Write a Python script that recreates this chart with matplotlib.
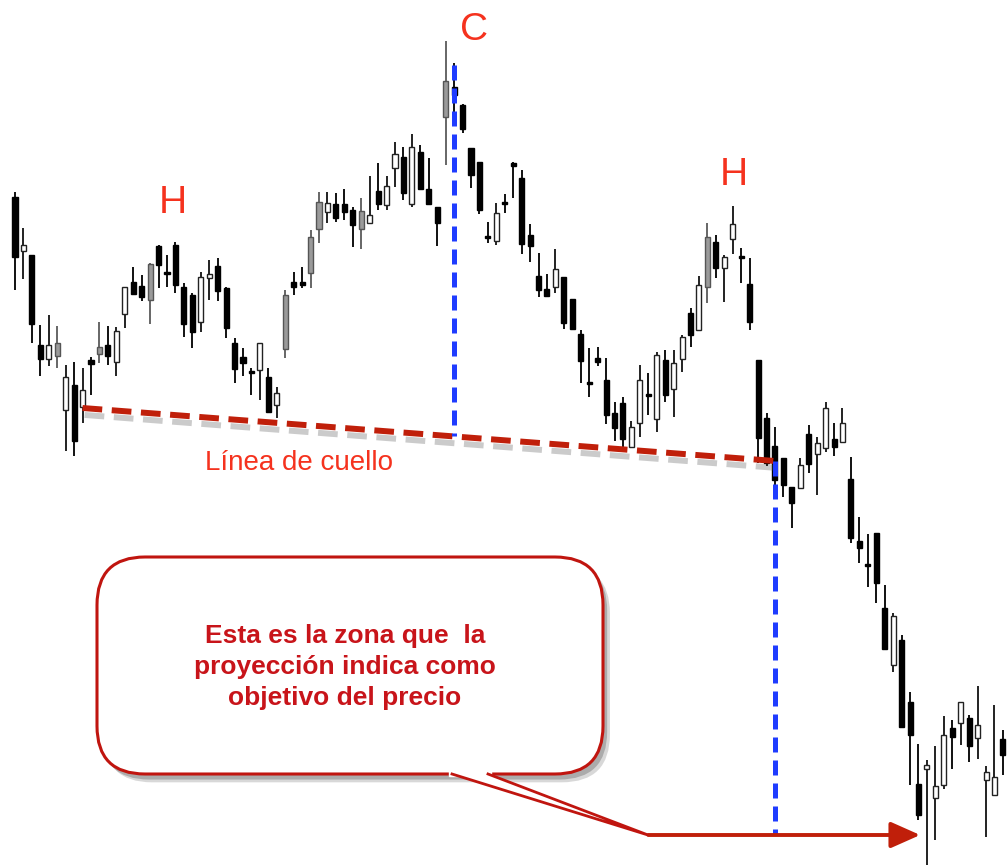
import matplotlib
matplotlib.use("Agg")
import matplotlib.pyplot as plt
import matplotlib.patheffects as pe
from matplotlib.patches import FancyBboxPatch, Polygon
import numpy as np

# velas (precio en unidades arbitrarias)
opens = [70.3, 64.9, 64.5, 55.5, 54.1, 54.4, 49.0, 51.5, 49.3, 54.0,
         54.6, 55.5, 53.8, 58.6, 61.8, 61.4, 60.0, 65.4, 62.8, 65.5,
         61.3, 60.5, 57.8, 62.2, 63.4, 61.2, 55.7, 54.3, 52.9, 53.0,
         52.3, 49.5, 55.1, 61.8, 61.8, 62.7, 67.1, 68.8, 69.6, 69.6,
         69.0, 67.1, 67.7, 70.9, 69.5, 73.2, 74.3, 69.6, 74.8, 71.1,
         69.3, 78.3, 81.3, 79.5, 75.2, 73.8, 66.4, 65.9, 69.8, 73.7,
         72.2, 66.5, 62.4, 61.1, 61.3, 62.3, 60.1, 56.6, 51.8, 54.2,
         52.0, 48.7, 49.7, 45.3, 47.7, 50.6, 48.1, 54.0, 51.1, 54.1,
         58.7, 57.0, 61.3, 65.8, 63.2, 66.1, 64.4, 61.6, 54.0, 48.2,
         45.4, 44.2, 41.3, 41.2, 46.6, 44.6, 45.2, 46.1, 45.8, 42.1,
         35.9, 33.6, 36.7, 29.2, 23.5, 26.0, 19.8, 11.6, 13.1, 10.2,
         11.5, 17.2, 17.7, 18.2, 16.2, 12.0, 10.5, 16.1]
highs = [70.8, 67.2, 64.5, 57.5, 58.5, 57.4, 53.5, 53.8, 53.2, 54.3,
         57.8, 57.4, 57.3, 61.3, 63.3, 62.5, 63.7, 65.5, 64.5, 65.8,
         61.7, 60.7, 62.8, 64.0, 64.2, 61.3, 56.2, 55.2, 53.2, 55.7,
         53.2, 51.3, 61.0, 62.8, 63.3, 67.0, 70.8, 70.8, 70.7, 71.1,
         69.3, 70.2, 72.4, 73.7, 72.4, 75.8, 75.3, 76.6, 75.5, 74.2,
         69.3, 85.9, 83.7, 79.6, 75.2, 73.8, 67.8, 69.7, 70.6, 73.8,
         73.0, 67.6, 64.7, 62.6, 65.1, 62.3, 60.1, 57.0, 55.2, 55.3,
         54.2, 49.8, 50.3, 47.9, 53.5, 52.7, 54.8, 55.0, 55.0, 56.5,
         59.2, 62.4, 67.7, 66.5, 64.5, 69.4, 65.2, 64.2, 54.0, 48.7,
         47.3, 44.2, 41.3, 44.2, 47.5, 46.3, 49.8, 47.7, 49.2, 44.3,
         38.3, 36.6, 36.7, 31.5, 28.7, 26.5, 20.8, 15.6, 14.0, 15.4,
         18.4, 18.0, 19.8, 18.5, 21.4, 13.4, 19.5, 17.0]
lows = [61.0, 62.1, 55.7, 52.4, 53.4, 53.2, 44.9, 44.4, 47.7, 50.5,
        53.7, 53.5, 52.4, 57.2, 60.5, 59.9, 57.6, 61.2, 61.3, 60.7,
        56.3, 55.2, 56.8, 60.0, 59.9, 56.2, 51.7, 52.4, 50.5, 50.0,
        48.8, 48.2, 54.2, 60.5, 61.2, 61.2, 65.7, 67.7, 67.8, 68.0,
        65.3, 65.1, 67.7, 69.0, 69.0, 71.3, 70.0, 69.3, 71.0, 69.5,
        65.4, 73.5, 78.3, 76.7, 71.2, 68.6, 65.7, 65.5, 68.7, 70.2,
        64.6, 63.8, 60.3, 60.3, 60.7, 57.1, 57.0, 51.7, 50.3, 53.4,
        47.6, 45.9, 45.2, 45.2, 46.3, 48.5, 46.8, 49.8, 48.3, 52.8,
        55.3, 57.0, 59.7, 62.2, 59.8, 64.6, 61.7, 57.0, 43.7, 43.4,
        41.0, 40.3, 37.2, 41.2, 42.7, 40.5, 44.8, 44.4, 45.8, 35.7,
        33.7, 31.3, 29.7, 25.0, 22.8, 17.3, 11.5, 8.0, 3.5, 6.0,
        11.1, 13.1, 15.5, 13.8, 14.1, 6.3, 10.5, 12.5]
closes = [64.3, 65.5, 57.6, 54.1, 55.5, 55.7, 52.3, 45.9, 51.0, 53.6,
          55.3, 54.4, 56.9, 61.3, 60.6, 60.3, 63.6, 63.5, 62.6, 61.5,
          57.6, 56.8, 62.3, 62.6, 60.9, 57.2, 53.1, 53.7, 52.7, 55.7,
          48.8, 50.7, 60.5, 61.3, 61.5, 66.3, 69.8, 69.7, 68.2, 68.8,
          67.5, 68.9, 68.5, 69.6, 71.4, 74.6, 70.7, 75.3, 71.1, 69.6,
          67.7, 81.9, 80.5, 77.1, 72.5, 69.0, 66.2, 68.7, 69.6, 73.4,
          65.6, 65.4, 61.0, 60.4, 63.1, 57.7, 57.1, 53.9, 51.6, 53.8,
          48.5, 47.2, 46.1, 47.3, 52.0, 50.4, 54.5, 50.5, 53.7, 56.3,
          56.5, 61.5, 66.3, 63.2, 64.3, 67.6, 64.2, 57.8, 46.2, 43.7,
          42.0, 41.5, 39.7, 43.5, 43.6, 45.7, 49.2, 45.3, 47.7, 36.2,
          35.2, 33.4, 31.7, 25.1, 28.4, 17.3, 16.5, 8.5, 13.5, 11.4,
          16.5, 16.3, 19.8, 15.4, 17.5, 12.8, 12.3, 14.5]
# k = negra, w = hueca, g = gris
kinds = list("kwkkwgwkwk" "gkwwkkgkkk" "kkwwkkkkkw" "kwgkkggwkk" "kgwkwwkwkk"
             "kgkkkkkwkk" "kkkkwkkkkk" "kkkwwkwkww" "kwgkwwkkkk" "kkkwkwwkwk"
             "kkkkwkkkww" "wkwkwwwk")

# niveles del patrón
neck_idx = [8, 90]
neck_price = [49.2, 43.9]
head_idx = 52
head_top = 83.5
target_price = 6.5
arrow_end_idx = 107.2

RED_TXT = "#f5321e"
NECK_RED = "#c01f0a"
BLUE = "#1f3cff"

fig = plt.figure(figsize=(10.08, 8.67), dpi=100)
plt.rcParams["font.family"] = ["Liberation Sans", "DejaVu Sans"]
ax = fig.add_axes([0, 0, 1, 1])
ax.set_xlim(-1.776, 117.6)
ax.set_ylim(3.3, 90)
ax.axis("off")

x = np.arange(len(opens))
o = np.array(opens)
c = np.array(closes)
body_lo = np.minimum(o, c)
body_h = np.maximum(np.abs(c - o), 0.25)
face = {"k": "black", "w": "white", "g": "#9a9a9a"}
edge = {"k": "black", "w": "#222222", "g": "#555555"}
wick = {"k": "#111111", "w": "#222222", "g": "#666666"}

ax.vlines(x, lows, highs, colors=[wick[k] for k in kinds], lw=1.4, zorder=2)
ax.bar(x, body_h, bottom=body_lo, width=0.6,
       color=[face[k] for k in kinds], edgecolor=[edge[k] for k in kinds],
       linewidth=1.0, zorder=3)

# línea de cuello
ax.plot(neck_idx, neck_price, color=NECK_RED, lw=4.3, dashes=(3.3, 1.6),
        solid_capstyle="butt", zorder=5,
        path_effects=[pe.SimpleLineShadow(offset=(1.5, -5), shadow_color="#555555", alpha=0.3),
                      pe.Normal()])

# proyecciones
neck_at_head = np.interp(head_idx, neck_idx, neck_price)
ax.plot([head_idx, head_idx], [head_top, neck_at_head], color=BLUE, lw=3.6,
        dashes=(3, 1.6), zorder=6)
ax.plot([neck_idx[1], neck_idx[1]], [neck_price[1], target_price], color=BLUE,
        lw=3.6, dashes=(3, 1.6), zorder=6)
ax.annotate("", xy=(arrow_end_idx, target_price), xytext=(75, target_price),
            arrowprops=dict(arrowstyle="-|>,head_length=1.8,head_width=0.8",
                            color=NECK_RED, lw=2.8, shrinkA=0, shrinkB=0),
            zorder=7)

# capa de anotaciones en píxeles
ov = fig.add_axes([0, 0, 1, 1])
ov.set_xlim(0, 1008)
ov.set_ylim(867, 0)
ov.axis("off")
ov.patch.set_alpha(0)

ov.text(173, 203, "H", color=RED_TXT, fontsize=28, ha="center", va="center")
ov.text(474, 30, "C", color=RED_TXT, fontsize=28, ha="center", va="center")
ov.text(734, 175, "H", color=RED_TXT, fontsize=28, ha="center", va="center")
ov.text(205, 463, "Línea de cuello", color=RED_TXT, fontsize=20,
        ha="left", va="center")

# globo
shadow = [pe.SimplePatchShadow(offset=(5, -6), shadow_rgbFace="#666666", alpha=0.25),
          pe.SimplePatchShadow(offset=(3, -4), shadow_rgbFace="#444444", alpha=0.3),
          pe.Normal()]
box = FancyBboxPatch((97, 557), 506, 217, boxstyle="round,pad=0,rounding_size=48",
                     facecolor="white", edgecolor="#c0150f", lw=2.2, zorder=5,
                     path_effects=shadow)
ov.add_patch(box)
tail = Polygon([(452, 774), (488, 774), (648, 835)], closed=True,
               facecolor="white", edgecolor="none", zorder=6)
ov.add_patch(tail)
ov.fill([449, 491, 491, 449], [770, 770, 776, 776], color="white", zorder=6)
ov.plot([452, 648, 488], [774, 835, 774], color="#c0150f", lw=2.0, zorder=7,
        solid_joinstyle="miter")

ov.text(345, 667, "Esta es la zona que  la\nproyección indica como\nobjetivo del precio",
        color="#c8141a", fontsize=19, fontweight="bold", ha="center",
        va="center", multialignment="center", linespacing=1.38, zorder=8)

fig.savefig("out.png", dpi=100, facecolor="white")
